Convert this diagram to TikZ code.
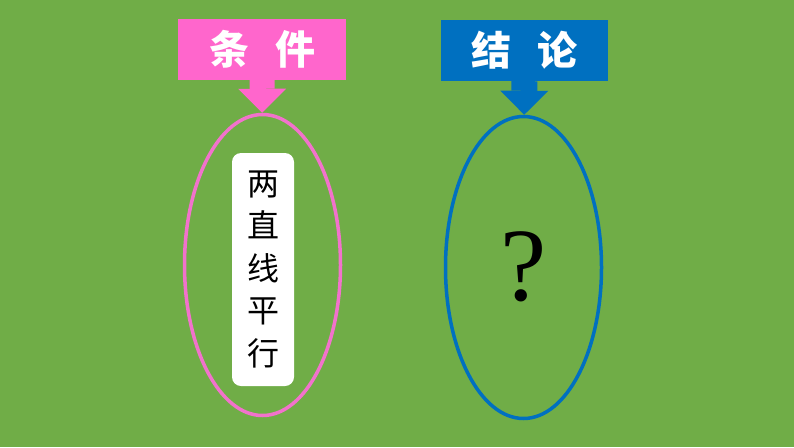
\documentclass[tikz,border=0pt]{standalone}
\usepackage{fontspec}
\newfontfamily\cjk{Noto Sans CJK SC}
\newfontfamily\timesq{Liberation Serif}
\usepackage{tikz}
\usetikzlibrary{positioning,arrows.meta,shapes.geometric}
\definecolor{bggreen}{HTML}{70AD47}
\definecolor{tagpink}{HTML}{FF66CC}
\definecolor{ringpink}{HTML}{F272CC}
\definecolor{tagblue}{HTML}{0070C0}

\begin{document}
\begin{tikzpicture}[x=1pt, y=-1pt]
\fill[bggreen] (0,0) rectangle (794,447);
\useasboundingbox (0,0) rectangle (794,447);

\node[fill=tagpink, minimum width=168pt, minimum height=61pt, text=white, font=\cjk\bfseries\fontsize{40}{40}\selectfont] (tiaojian) at (262,49.5) {条\hspace{26pt}件};
\node[fill=tagblue, minimum width=167pt, minimum height=61pt, text=white, font=\cjk\bfseries\fontsize{40}{40}\selectfont] (jielun) at (524.5,50.5) {结\hspace{26pt}论};

\node[draw=ringpink, ellipse, line width=3.5pt, minimum width=156pt, minimum height=301pt] (tiaojian_ring) at (262.5,265) {};
\node[draw=tagblue, ellipse, line width=3.5pt, minimum width=156pt, minimum height=302pt] (jielun_ring) at (523.5,267.5) {};

\node[fill=white, rounded corners=9pt, minimum width=62pt, minimum height=233pt, align=center, font=\cjk\fontsize{32}{42.5}\selectfont] (tiaojian_text) at (263,269.5) {两\\直\\线\\平\\行};
\node[font=\timesq\fontsize{104}{104}\selectfont] (jielun_text) at (523.5,267) {?};

\draw[tagpink, line width=25pt, -{Triangle[width=48pt, length=24pt, line width=0pt]}] (tiaojian) -- (tiaojian_ring);
\draw[tagblue, line width=26pt, -{Triangle[width=48pt, length=24pt, line width=0pt]}] (jielun) -- (jielun_ring);

\end{tikzpicture}
\end{document}
